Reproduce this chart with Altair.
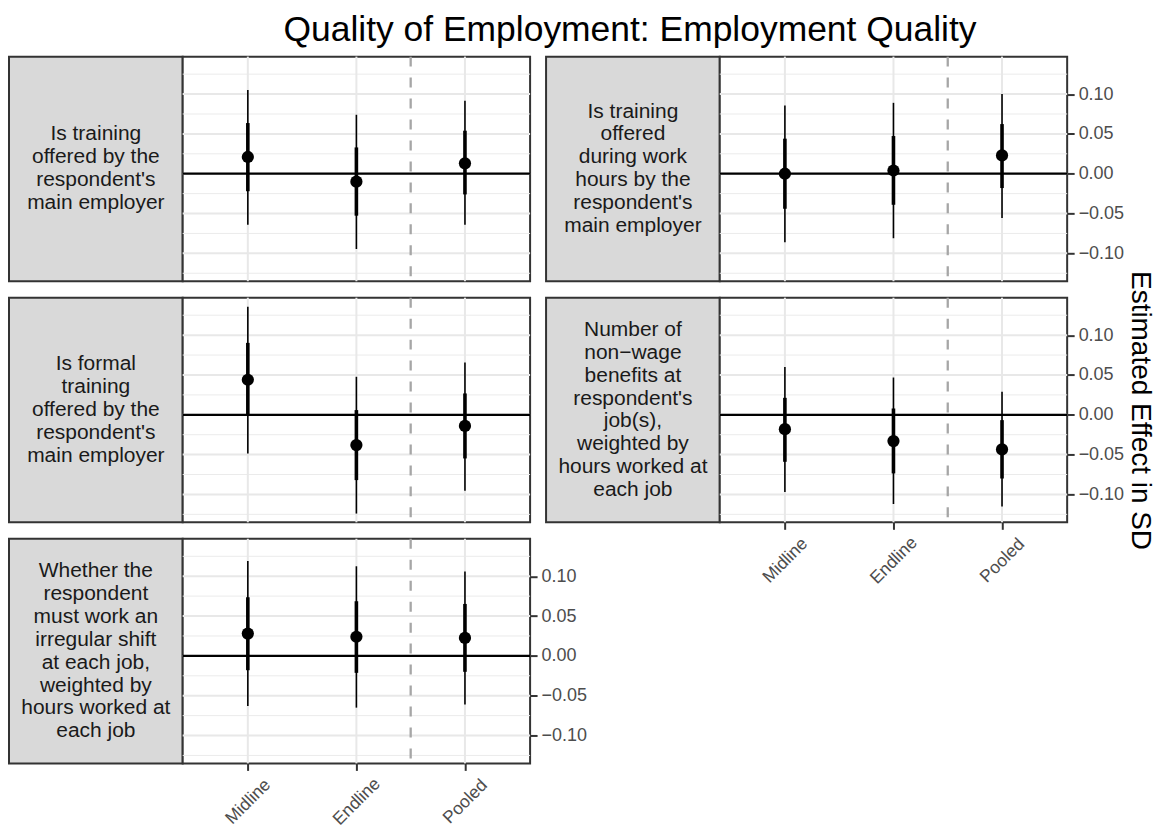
import altair as alt
import pandas as pd

FONT = "Liberation Sans"

waves = ["Midline", "Endline", "Pooled"]
wave_pos = [1, 2, 3]
pooled_separator = [2.5]

strip_labels = [
    "Is training\noffered by the\nrespondent's\nmain employer",
    "Is training\noffered\nduring work\nhours by the\nrespondent's\nmain employer",
    "Is formal\ntraining\noffered by the\nrespondent's\nmain employer",
    "Number of\nnon\u2212wage\nbenefits at\nrespondent's\njob(s),\nweighted by\nhours worked at\neach job",
    "Whether the\nrespondent\nmust work an\nirregular shift\nat each job,\nweighted by\nhours worked at\neach job",
]

estimates = [
    [0.021, -0.010, 0.013],
    [0.000, 0.004, 0.023],
    [0.044, -0.038, -0.014],
    [-0.018, -0.033, -0.0435],
    [0.028, 0.024, 0.0226],
]
ci95_lo = [
    [-0.064, -0.0945, -0.064],
    [-0.086, -0.081, -0.0556],
    [-0.0485, -0.124, -0.0954],
    [-0.097, -0.112, -0.115],
    [-0.063, -0.065, -0.061],
]
ci95_hi = [
    [0.105, 0.074, 0.0916],
    [0.0857, 0.089, 0.100],
    [0.1355, 0.0477, 0.0657],
    [0.060, 0.0468, 0.029],
    [0.119, 0.1125, 0.106],
]
ci90_lo = [
    [-0.022, -0.0527, -0.026],
    [-0.044, -0.039, -0.018],
    [-0.0013, -0.082, -0.0548],
    [-0.059, -0.0736, -0.080],
    [-0.018, -0.0213, -0.020],
]
ci90_hi = [
    [0.0636, 0.033, 0.054],
    [0.044, 0.0473, 0.0623],
    [0.0903, 0.0059, 0.0268],
    [0.0213, 0.0079, -0.0067],
    [0.0736, 0.0686, 0.0652],
]

y_major = [-0.10, -0.05, 0.0, 0.05, 0.10]
y_minor = [-0.125, -0.075, -0.025, 0.025, 0.075, 0.125]
zero_line = [0.0]

# which panels show which axes: (y axis, x axis, y title)
panel_axes = [
    (False, False, False),
    (True, False, False),
    (False, False, False),
    (True, True, True),
    (True, True, False),
]

W_STRIP, W_PLOT, H = 174, 348, 225
LINE_H = 23
Y_DOMAIN = [-0.135, 0.147]
X_DOMAIN = [0.4, 3.6]

label_expr = "[" + ",".join("'%s'" % w for w in waves) + "][datum.value - 1]"


def y_axis(show, with_title):
    if not show:
        return None
    kw = dict(orient="right", values=y_major, format=".2f", labelFont=FONT,
              labelFontSize=18, labelColor="#4D4D4D", ticks=True,
              tickColor="#333333", tickWidth=2, tickSize=7, labelPadding=4,
              domain=False, grid=False)
    if with_title:
        kw.update(title="Estimated Effect in SD", titleFont=FONT, titleFontSize=28,
                  titleFontWeight="normal", titleColor="black", titleAngle=90,
                  titlePadding=2)
    else:
        kw["title"] = None
    return alt.Axis(**kw)


def x_axis(show):
    if not show:
        return None
    return alt.Axis(orient="bottom", values=wave_pos, labelExpr=label_expr,
                    labelAngle=-45, labelAlign="center", labelBaseline="middle",
                    labelFont=FONT, labelFontSize=17.5, labelColor="#4D4D4D",
                    tickColor="#333333", tickWidth=2, tickSize=7, labelPadding=31,
                    domain=False, grid=False, title=None)


def panel(i):
    show_y, show_x, with_title = panel_axes[i]
    ya = y_axis(show_y, with_title)
    xa = x_axis(show_x)
    xs = alt.Scale(domain=X_DOMAIN, nice=False, zero=False)
    ys = alt.Scale(domain=Y_DOMAIN, nice=False, zero=False)

    def X(f):
        return alt.X(f"{f}:Q", scale=xs, axis=xa)

    def Y(f):
        return alt.Y(f"{f}:Q", scale=ys, axis=ya)

    df = pd.DataFrame({
        "x": wave_pos, "wave": waves, "est": estimates[i],
        "lo95": ci95_lo[i], "hi95": ci95_hi[i],
        "lo90": ci90_lo[i], "hi90": ci90_hi[i],
    })
    minor = alt.Chart(pd.DataFrame({"v": y_minor})).mark_rule(
        color="#EBEBEB", strokeWidth=1).encode(y=Y("v"))
    major = alt.Chart(pd.DataFrame({"v": y_major})).mark_rule(
        color="#E8E8E8", strokeWidth=2).encode(y=Y("v"))
    vgrid = alt.Chart(pd.DataFrame({"v": wave_pos})).mark_rule(
        color="#E8E8E8", strokeWidth=2).encode(x=X("v"))
    zero = alt.Chart(pd.DataFrame({"v": zero_line})).mark_rule(
        color="black", strokeWidth=2.2).encode(y=Y("v"))
    dashed = alt.Chart(pd.DataFrame({"v": pooled_separator})).mark_rule(
        color="#A6A6A6", strokeWidth=2.3, strokeDash=[10, 11]).encode(x=X("v"))
    thin = alt.Chart(df).mark_rule(color="black", strokeWidth=1.6).encode(
        x=X("x"), y=Y("lo95"), y2="hi95")
    thick = alt.Chart(df).mark_rule(color="black", strokeWidth=3.6).encode(
        x=X("x"), y=Y("lo90"), y2="hi90")
    pts = alt.Chart(df).mark_circle(size=150, color="black", opacity=1).encode(
        x=X("x"), y=Y("est"))
    return alt.layer(minor, major, vgrid, zero, dashed, thin, thick, pts).properties(
        width=W_PLOT, height=H,
        view=alt.ViewBackground(fill="white", stroke="#333333", strokeWidth=2))


def strip(i):
    n_lines = strip_labels[i].count("\n") + 1
    y_first = H / 2 - (n_lines - 1) * LINE_H / 2
    return alt.Chart(pd.DataFrame({"label": [strip_labels[i]]})).mark_text(
        font=FONT, fontSize=21, lineHeight=LINE_H, color="#1A1A1A", align="center",
        baseline="middle", lineBreak="\n").encode(
        text="label:N", x=alt.value(W_STRIP / 2), y=alt.value(y_first)).properties(
        width=W_STRIP, height=H,
        view=alt.ViewBackground(fill="#D9D9D9", stroke="#333333", strokeWidth=2))


def spacer():
    return alt.Chart(pd.DataFrame({"v": [0]})).mark_point(opacity=0).encode(
        x=alt.value(0), y=alt.value(0)).properties(
        width=16, height=H, view=alt.ViewBackground(stroke="transparent"))


chart = alt.concat(
    strip(0), panel(0), spacer(), strip(1), panel(1),
    strip(2), panel(2), spacer(), strip(3), panel(3),
    strip(4), panel(4),
    columns=5, spacing={"row": 16.5, "column": 0}, bounds="flush",
).properties(
    title=alt.TitleParams("Quality of Employment: Employment Quality", font=FONT,
                          fontSize=35.5, fontWeight="normal", color="black",
                          anchor="start", dx=276, offset=5),
    padding={"left": 0, "top": 4, "right": 4, "bottom": 0},
).configure(background="white")

chart.save("out.html", embed_options={"renderer": "svg", "actions": False})
